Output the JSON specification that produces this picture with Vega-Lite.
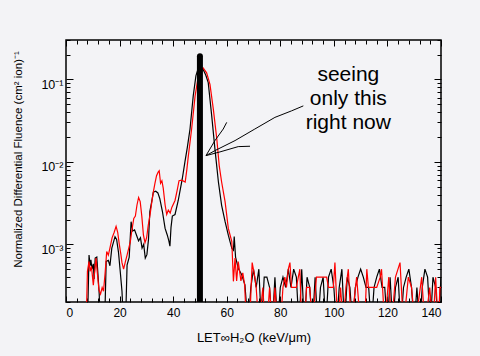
{
  "$schema": "https://vega.github.io/schema/vega-lite/v6.json",
  "width": 375,
  "height": 262,
  "autosize": {"type": "none"},
  "padding": {"left": 66, "top": 40, "right": 39, "bottom": 54},
  "background": "#f3f3f6",
  "config": {
    "font": "Liberation Sans",
    "view": {"stroke": "#000000", "strokeWidth": 1.5, "fill": "#f3f3f6"},
    "axis": {"domain": false, "grid": false, "tickColor": "#000000", "tickWidth": 1, "labelColor": "#000000", "titleColor": "#000000", "labelFont": "Liberation Sans", "titleFont": "Liberation Sans", "titleFontWeight": "normal", "labelFontSize": 12, "titleFontSize": 12, "labelOverlap": false}
  },
  "datasets": {
    "spectra": [
      {"run":"s1","x":8.0,"y":0.0001},{"run":"s1","x":8.6,"y":0.00074},{"run":"s1","x":9.0,"y":0.00055},{"run":"s1","x":9.3,"y":0.00065},{"run":"s1","x":9.7,"y":0.0005},{"run":"s1","x":10.2,"y":0.00058},{"run":"s1","x":10.5,"y":0.00038},{"run":"s1","x":10.9,"y":0.00068},{"run":"s1","x":11.5,"y":0.0007},{"run":"s1","x":12.0,"y":0.0004},{"run":"s1","x":12.4,"y":0.00025},{"run":"s1","x":12.8,"y":0.0001},{"run":"s1","x":14.4,"y":0.0001},{"run":"s1","x":15.0,"y":0.00062},{"run":"s1","x":15.8,"y":0.00064},{"run":"s1","x":16.4,"y":0.00055},{"run":"s1","x":17.1,"y":0.0009},{"run":"s1","x":18.3,"y":0.00124},{"run":"s1","x":18.9,"y":0.00115},{"run":"s1","x":19.6,"y":0.0008},{"run":"s1","x":20.3,"y":0.00045},{"run":"s1","x":20.9,"y":0.00027},{"run":"s1","x":21.5,"y":0.0001},{"run":"s1","x":22.2,"y":0.0001},{"run":"s1","x":22.8,"y":0.00056},{"run":"s1","x":23.6,"y":0.0007},{"run":"s1","x":24.3,"y":0.00188},{"run":"s1","x":24.9,"y":0.00145},{"run":"s1","x":25.6,"y":0.0015},{"run":"s1","x":26.3,"y":0.0013},{"run":"s1","x":27.1,"y":0.0011},{"run":"s1","x":27.8,"y":0.0012},{"run":"s1","x":28.4,"y":0.0009},{"run":"s1","x":29.0,"y":0.001},{"run":"s1","x":29.6,"y":0.00068},{"run":"s1","x":30.2,"y":0.00075},{"run":"s1","x":30.8,"y":0.00115},{"run":"s1","x":31.3,"y":0.0025},{"run":"s1","x":32.0,"y":0.0033},{"run":"s1","x":32.6,"y":0.0043},{"run":"s1","x":33.5,"y":0.0044},{"run":"s1","x":34.3,"y":0.0042},{"run":"s1","x":35.0,"y":0.0036},{"run":"s1","x":36.0,"y":0.0025},{"run":"s1","x":37.0,"y":0.00156},{"run":"s1","x":37.8,"y":0.0013},{"run":"s1","x":38.4,"y":0.0011},{"run":"s1","x":38.8,"y":0.00095},{"run":"s1","x":39.2,"y":0.0016},{"run":"s1","x":39.7,"y":0.0022},{"run":"s1","x":40.7,"y":0.0023},{"run":"s1","x":41.9,"y":0.0034},{"run":"s1","x":43.4,"y":0.0062},{"run":"s1","x":44.4,"y":0.01},{"run":"s1","x":45.3,"y":0.015},{"run":"s1","x":46.3,"y":0.025},{"run":"s1","x":47.5,"y":0.063},{"run":"s1","x":48.5,"y":0.11},{"run":"s1","x":49.4,"y":0.138},{"run":"s1","x":50.3,"y":0.137},{"run":"s1","x":51.2,"y":0.132},{"run":"s1","x":52.2,"y":0.112},{"run":"s1","x":53.1,"y":0.0912},{"run":"s1","x":54.4,"y":0.0361},{"run":"s1","x":55.6,"y":0.01435},{"run":"s1","x":56.9,"y":0.00569},{"run":"s1","x":58.1,"y":0.00297},{"run":"s1","x":59.4,"y":0.00188},{"run":"s1","x":60.6,"y":0.00129},{"run":"s1","x":61.9,"y":0.000895},{"run":"s1","x":62.5,"y":0.00085},{"run":"s1","x":62.8,"y":0.00124},{"run":"s1","x":63.3,"y":0.0007},{"run":"s1","x":64.3,"y":0.000514},{"run":"s1","x":65.6,"y":0.000427},{"run":"s1","x":66.8,"y":0.000323},{"run":"s1","x":68.0,"y":0.0001},
      {"run":"s1","x":69,"y":0.0003},{"run":"s1","x":70,"y":0.0005},{"run":"s1","x":71,"y":0.0003},{"run":"s1","x":72,"y":0.0005},{"run":"s1","x":73,"y":0.0001},{"run":"s1","x":74,"y":0.0004},{"run":"s1","x":75,"y":0.0004},{"run":"s1","x":76,"y":0.0003},{"run":"s1","x":77,"y":0.0001},{"run":"s1","x":78,"y":0.0004},{"run":"s1","x":79,"y":0.0001},{"run":"s1","x":80,"y":0.0003},{"run":"s1","x":81,"y":0.0004},{"run":"s1","x":82,"y":0.0003},{"run":"s1","x":83,"y":0.0005},{"run":"s1","x":84,"y":0.0003},{"run":"s1","x":85,"y":0.0005},{"run":"s1","x":86,"y":0.0004},{"run":"s1","x":87,"y":0.0001},{"run":"s1","x":88,"y":0.0005},{"run":"s1","x":89,"y":0.0001},{"run":"s1","x":90,"y":0.0004},{"run":"s1","x":91,"y":0.0003},{"run":"s1","x":92,"y":0.0001},{"run":"s1","x":93,"y":0.0004},{"run":"s1","x":94,"y":0.0001},{"run":"s1","x":95,"y":0.0003},{"run":"s1","x":96,"y":0.0004},{"run":"s1","x":97,"y":0.0001},{"run":"s1","x":98,"y":0.0004},{"run":"s1","x":99,"y":0.0005},{"run":"s1","x":100,"y":0.0003},{"run":"s1","x":101,"y":0.0001},{"run":"s1","x":102,"y":0.0003},{"run":"s1","x":103,"y":0.0005},{"run":"s1","x":104,"y":0.0001},{"run":"s1","x":105,"y":0.0004},{"run":"s1","x":106,"y":0.0003},{"run":"s1","x":107,"y":0.0001},{"run":"s1","x":108,"y":0.0003},{"run":"s1","x":109,"y":0.0004},{"run":"s1","x":110,"y":0.0005},{"run":"s1","x":111,"y":0.0004},{"run":"s1","x":112,"y":0.0003},{"run":"s1","x":113,"y":0.0003},{"run":"s1","x":114,"y":0.0001},{"run":"s1","x":115,"y":0.0003},{"run":"s1","x":116,"y":0.0004},{"run":"s1","x":117,"y":0.0005},{"run":"s1","x":118,"y":0.0003},{"run":"s1","x":119,"y":0.0003},{"run":"s1","x":120,"y":0.0001},{"run":"s1","x":121,"y":0.0004},{"run":"s1","x":122,"y":0.0001},{"run":"s1","x":123,"y":0.0003},{"run":"s1","x":124,"y":0.0004},{"run":"s1","x":125,"y":0.0001},{"run":"s1","x":126,"y":0.0003},{"run":"s1","x":127,"y":0.0004},{"run":"s1","x":128,"y":0.0005},{"run":"s1","x":129,"y":0.0003},{"run":"s1","x":130,"y":0.0001},{"run":"s1","x":131,"y":0.0003},{"run":"s1","x":132,"y":0.0001},{"run":"s1","x":133,"y":0.0003},{"run":"s1","x":134,"y":0.0005},{"run":"s1","x":135,"y":0.0004},{"run":"s1","x":136,"y":0.0001},{"run":"s1","x":137,"y":0.0004},{"run":"s1","x":138,"y":0.0003},{"run":"s1","x":139,"y":0.0001},{"run":"s1","x":140,"y":0.0004},
      {"run":"s2","x":7.5,"y":0.0001},{"run":"s2","x":8.0,"y":0.00047},{"run":"s2","x":8.6,"y":0.00062},{"run":"s2","x":9.0,"y":0.00047},{"run":"s2","x":9.5,"y":0.00054},{"run":"s2","x":10.2,"y":0.00032},{"run":"s2","x":10.8,"y":0.0005},{"run":"s2","x":11.2,"y":0.00068},{"run":"s2","x":11.7,"y":0.00045},{"run":"s2","x":12.3,"y":0.00028},{"run":"s2","x":12.9,"y":0.00025},{"run":"s2","x":13.5,"y":0.0003},{"run":"s2","x":14.0,"y":0.00027},{"run":"s2","x":14.6,"y":0.00045},{"run":"s2","x":15.2,"y":0.00082},{"run":"s2","x":15.8,"y":0.00074},{"run":"s2","x":16.4,"y":0.0009},{"run":"s2","x":17.2,"y":0.0012},{"run":"s2","x":18.0,"y":0.0014},{"run":"s2","x":18.7,"y":0.00165},{"run":"s2","x":19.3,"y":0.0014},{"run":"s2","x":19.9,"y":0.001},{"run":"s2","x":20.5,"y":0.00075},{"run":"s2","x":20.9,"y":0.0006},{"run":"s2","x":21.5,"y":0.0005},{"run":"s2","x":22.2,"y":0.00062},{"run":"s2","x":22.8,"y":0.00074},{"run":"s2","x":24.0,"y":0.00107},{"run":"s2","x":24.5,"y":0.0014},{"run":"s2","x":25.3,"y":0.00206},{"run":"s2","x":25.9,"y":0.0022},{"run":"s2","x":26.5,"y":0.003},{"run":"s2","x":27.1,"y":0.0037},{"run":"s2","x":27.7,"y":0.0033},{"run":"s2","x":28.3,"y":0.0022},{"run":"s2","x":28.9,"y":0.0013},{"run":"s2","x":29.5,"y":0.00105},{"run":"s2","x":30.1,"y":0.0012},{"run":"s2","x":30.7,"y":0.0017},{"run":"s2","x":31.4,"y":0.0023},{"run":"s2","x":32.0,"y":0.0032},{"run":"s2","x":32.6,"y":0.0043},{"run":"s2","x":33.2,"y":0.0055},{"run":"s2","x":33.8,"y":0.0068},{"run":"s2","x":34.4,"y":0.0075},{"run":"s2","x":34.8,"y":0.0078},{"run":"s2","x":35.3,"y":0.0055},{"run":"s2","x":35.8,"y":0.0059},{"run":"s2","x":36.3,"y":0.0048},{"run":"s2","x":37.0,"y":0.003},{"run":"s2","x":37.6,"y":0.0023},{"run":"s2","x":38.2,"y":0.0026},{"run":"s2","x":38.9,"y":0.0024},{"run":"s2","x":39.5,"y":0.0028},{"run":"s2","x":40.7,"y":0.0034},{"run":"s2","x":41.5,"y":0.0045},{"run":"s2","x":42.2,"y":0.0059},{"run":"s2","x":43.2,"y":0.006},{"run":"s2","x":44.5,"y":0.0057},{"run":"s2","x":45.1,"y":0.008},{"run":"s2","x":45.7,"y":0.012},{"run":"s2","x":46.9,"y":0.025},{"run":"s2","x":48.2,"y":0.063},{"run":"s2","x":49.1,"y":0.095},{"run":"s2","x":50.0,"y":0.126},{"run":"s2","x":51.2,"y":0.138},{"run":"s2","x":52.5,"y":0.12},{"run":"s2","x":53.75,"y":0.087},{"run":"s2","x":55.0,"y":0.0435},{"run":"s2","x":56.3,"y":0.0189},{"run":"s2","x":57.2,"y":0.009},{"run":"s2","x":58.1,"y":0.0057},{"run":"s2","x":59.4,"y":0.00327},{"run":"s2","x":60.6,"y":0.00156},{"run":"s2","x":61.9,"y":0.00108},{"run":"s2","x":62.5,"y":0.000356},{"run":"s2","x":63.1,"y":0.00068},{"run":"s2","x":63.7,"y":0.00036},{"run":"s2","x":64.3,"y":0.00062},{"run":"s2","x":65.3,"y":0.00036},{"run":"s2","x":66.0,"y":0.00045},{"run":"s2","x":66.7,"y":0.00032},{"run":"s2","x":67.4,"y":0.0001},{"run":"s2","x":68.5,"y":0.0001},
      {"run":"s2","x":69.5,"y":0.0006},{"run":"s2","x":70.5,"y":0.0004},{"run":"s2","x":71,"y":0.0003},{"run":"s2","x":72,"y":0.0001},{"run":"s2","x":73.5,"y":0.0003},{"run":"s2","x":74.3,"y":0.0001},{"run":"s2","x":75,"y":0.0001},{"run":"s2","x":76,"y":0.0003},{"run":"s2","x":77,"y":0.0001},{"run":"s2","x":78,"y":0.0003},{"run":"s2","x":79,"y":0.0001},{"run":"s2","x":80,"y":0.0001},{"run":"s2","x":81,"y":0.0003},{"run":"s2","x":81.7,"y":0.0004},{"run":"s2","x":82.3,"y":0.0003},{"run":"s2","x":83,"y":0.0005},{"run":"s2","x":83.6,"y":0.0006},{"run":"s2","x":84.2,"y":0.0003},{"run":"s2","x":86,"y":0.0003},{"run":"s2","x":87.3,"y":0.0005},{"run":"s2","x":88,"y":0.0001},{"run":"s2","x":89,"y":0.0001},{"run":"s2","x":89.8,"y":0.0003},{"run":"s2","x":91,"y":0.0003},{"run":"s2","x":92,"y":0.0001},{"run":"s2","x":93.5,"y":0.0004},{"run":"s2","x":97.3,"y":0.0004},{"run":"s2","x":98,"y":0.0003},{"run":"s2","x":99.8,"y":0.0003},{"run":"s2","x":100.4,"y":0.0006},{"run":"s2","x":101.5,"y":0.0001},{"run":"s2","x":102.5,"y":0.0003},{"run":"s2","x":103.5,"y":0.0001},{"run":"s2","x":104.5,"y":0.0003},{"run":"s2","x":105.4,"y":0.0005},{"run":"s2","x":106.5,"y":0.0001},{"run":"s2","x":108.5,"y":0.0004},{"run":"s2","x":110,"y":0.0001},{"run":"s2","x":111.5,"y":0.0001},{"run":"s2","x":112.3,"y":0.0005},{"run":"s2","x":112.9,"y":0.0003},{"run":"s2","x":116,"y":0.0003},{"run":"s2","x":117.3,"y":0.0004},{"run":"s2","x":117.8,"y":0.0005},{"run":"s2","x":119,"y":0.0001},{"run":"s2","x":120.5,"y":0.0004},{"run":"s2","x":121.5,"y":0.0001},{"run":"s2","x":123,"y":0.0004},{"run":"s2","x":124.7,"y":0.0006},{"run":"s2","x":126,"y":0.0001},{"run":"s2","x":127.8,"y":0.0004},{"run":"s2","x":129,"y":0.0003},{"run":"s2","x":130.3,"y":0.0001},{"run":"s2","x":132.8,"y":0.0004},{"run":"s2","x":134,"y":0.0001},{"run":"s2","x":135.8,"y":0.0003},{"run":"s2","x":137,"y":0.0001},{"run":"s2","x":138,"y":0.0004},{"run":"s2","x":139,"y":0.0001},{"run":"s2","x":139.6,"y":0.0003},{"run":"s2","x":140,"y":0.0003}
    ],
    "bar": [{"x": 50, "y": 0.0002, "y2": 0.19}],
    "arrow": [
      {"seg":"a","ord":0,"x":52.26,"y":0.0119},{"seg":"a","ord":1,"x":55.6,"y":0.0181},{"seg":"a","ord":2,"x":58.7,"y":0.025},{"seg":"a","ord":3,"x":60.0,"y":0.0301},
      {"seg":"b","ord":0,"x":52.26,"y":0.0119},{"seg":"b","ord":1,"x":55.6,"y":0.01368},{"seg":"b","ord":2,"x":63.1,"y":0.0181},{"seg":"b","ord":3,"x":70.5,"y":0.025},{"seg":"b","ord":4,"x":78.0,"y":0.0346},{"seg":"b","ord":5,"x":84.2,"y":0.0415},{"seg":"b","ord":6,"x":88.6,"y":0.0477},
      {"seg":"c","ord":0,"x":52.26,"y":0.0119},{"seg":"c","ord":1,"x":57.5,"y":0.0132},{"seg":"c","ord":2,"x":64.3,"y":0.0153},{"seg":"c","ord":3,"x":68.7,"y":0.01546}
    ],
    "note": [
      {"t":"seeing","x":105.4,"y":0.0954},
      {"t":"only this","x":105.4,"y":0.0487},
      {"t":"right now","x":105.4,"y":0.025}
    ]
  },
  "layer": [
    {
      "data": {"name": "spectra"},
      "mark": {"type": "line", "strokeWidth": 1.2, "clip": true},
      "encoding": {
        "x": {"field": "x", "type": "quantitative", "scale": {"domain": [0, 140], "nice": false},
          "axis": {"orient": "bottom", "title": "LET∞H₂O (keV/μm)", "titlePadding": 11, "titleFontSize": 13,
            "values": [0,4,8,12,16,20,24,28,32,36,40,44,48,52,56,60,64,68,72,76,80,84,88,92,96,100,104,108,112,116,120,124,128,132,136,140],
            "labelExpr": "datum.value % 20 == 0 ? datum.label : ''",
            "tickSize": {"condition": {"test": "datum.value % 20 == 0", "value": -6}, "value": -4},
            "labelPadding": 11}},
        "y": {"field": "y", "type": "quantitative", "scale": {"type": "log", "domain": [0.0002, 0.3], "nice": false},
          "axis": {"orient": "left", "title": "Normalized Differential Fluence (cm² ion)⁻¹", "titlePadding": 17, "titleFontSize": 11.5, "titleY": 119,
            "values": [0.0002,0.0003,0.0004,0.0005,0.0006,0.0007,0.0008,0.0009,0.001,0.002,0.003,0.004,0.005,0.006,0.007,0.008,0.009,0.01,0.02,0.03,0.04,0.05,0.06,0.07,0.08,0.09,0.1,0.2,0.3],
            "labelExpr": "datum.value == 0.1 ? '10⁻¹' : datum.value == 0.01 ? '10⁻²' : datum.value == 0.001 ? '10⁻³' : ''",
            "labelFontSize": 12.5,
            "tickSize": {"condition": {"test": "datum.value == 0.1 || datum.value == 0.01 || datum.value == 0.001", "value": -7}, "value": -4},
            "labelPadding": 10, "labelOffset": 5}},
        "color": {"field": "run", "type": "nominal", "scale": {"domain": ["s1", "s2"], "range": ["#000000", "#ff0000"]}, "legend": null}
      }
    },
    {
      "data": {"name": "bar"},
      "mark": {"type": "rule", "strokeWidth": 6, "color": "#000000", "strokeCap": "round", "clip": true},
      "encoding": {
        "x": {"field": "x", "type": "quantitative",
          "axis": {"orient": "top", "title": null, "labels": false,
            "values": [0,4,8,12,16,20,24,28,32,36,40,44,48,52,56,60,64,68,72,76,80,84,88,92,96,100,104,108,112,116,120,124,128,132,136,140],
            "tickSize": {"condition": {"test": "datum.value % 20 == 0", "value": -6}, "value": -4}}},
        "y": {"field": "y", "type": "quantitative",
          "axis": {"orient": "right", "title": null, "labels": false,
            "values": [0.0002,0.0003,0.0004,0.0005,0.0006,0.0007,0.0008,0.0009,0.001,0.002,0.003,0.004,0.005,0.006,0.007,0.008,0.009,0.01,0.02,0.03,0.04,0.05,0.06,0.07,0.08,0.09,0.1,0.2,0.3],
            "tickSize": {"condition": {"test": "datum.value == 0.1 || datum.value == 0.01 || datum.value == 0.001", "value": -7}, "value": -4}}},
        "y2": {"field": "y2"}
      }
    },
    {
      "data": {"name": "arrow"},
      "mark": {"type": "line", "strokeWidth": 1, "color": "#000000"},
      "encoding": {
        "x": {"field": "x", "type": "quantitative", "axis": null},
        "y": {"field": "y", "type": "quantitative", "axis": null},
        "detail": {"field": "seg", "type": "nominal"},
        "order": {"field": "ord", "type": "quantitative"}
      }
    },
    {
      "data": {"name": "note"},
      "mark": {"type": "text", "fontSize": 21, "font": "Liberation Sans", "align": "center", "baseline": "alphabetic", "color": "#000000"},
      "encoding": {
        "x": {"field": "x", "type": "quantitative", "axis": null},
        "y": {"field": "y", "type": "quantitative", "axis": null},
        "text": {"field": "t"}
      }
    }
  ],
  "resolve": {"axis": {"x": "independent", "y": "independent"}}
}
